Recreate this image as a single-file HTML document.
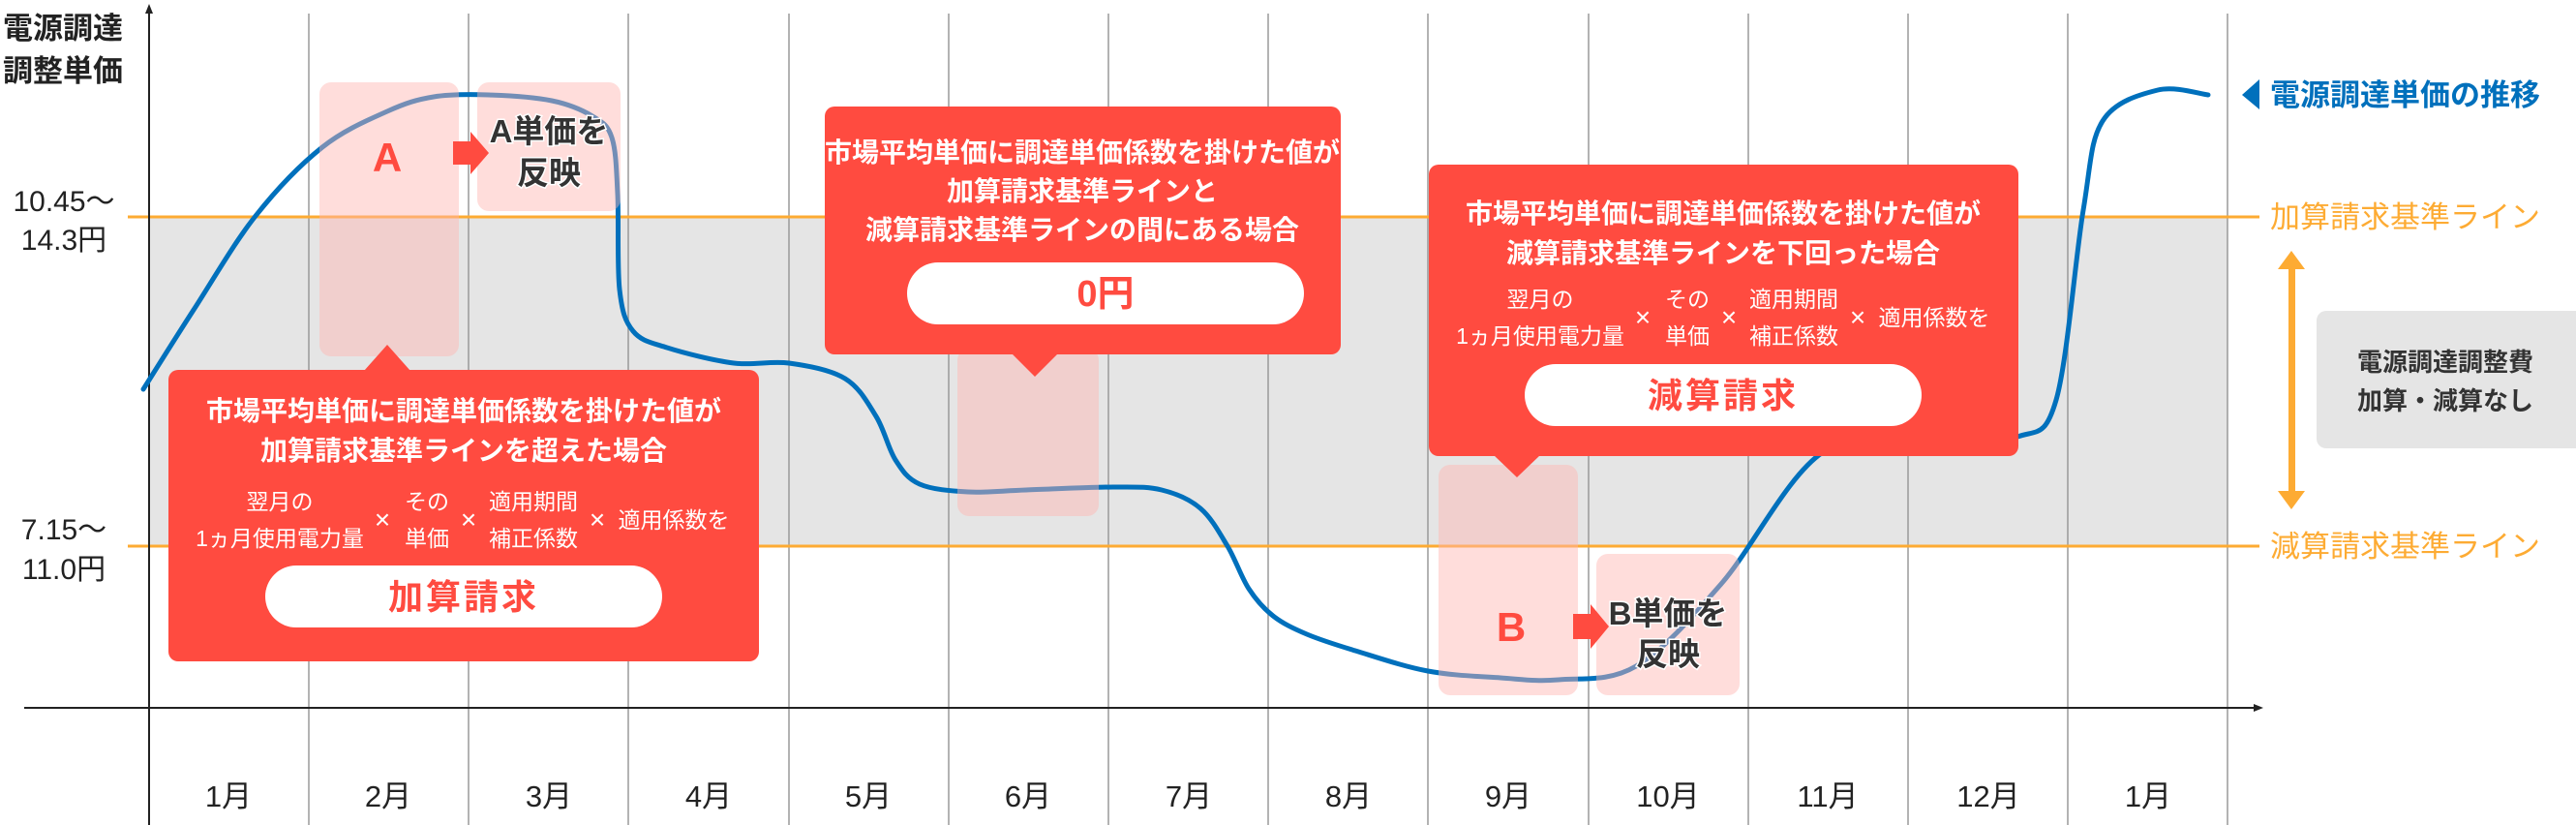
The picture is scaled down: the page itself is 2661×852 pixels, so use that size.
<!DOCTYPE html>
<html><head><meta charset="utf-8"><style>
html,body{margin:0;padding:0;background:#fff;}
svg{display:block;}
text{font-family:"Liberation Sans","Noto Sans CJK JP",sans-serif;}
</style></head><body>
<svg width="2661" height="852" viewBox="0 0 2661 852" xmlns="http://www.w3.org/2000/svg">
<rect x="154" y="224" width="2147" height="340" fill="#e5e5e5"/>
<g stroke="#9a9a9a" stroke-width="1.5">
<line x1="319" y1="14" x2="319" y2="852"/><line x1="484" y1="14" x2="484" y2="852"/>
<line x1="649" y1="14" x2="649" y2="852"/><line x1="815" y1="14" x2="815" y2="852"/>
<line x1="980" y1="14" x2="980" y2="852"/><line x1="1145" y1="14" x2="1145" y2="852"/>
<line x1="1310" y1="14" x2="1310" y2="852"/><line x1="1475" y1="14" x2="1475" y2="852"/>
<line x1="1641" y1="14" x2="1641" y2="852"/><line x1="1806" y1="14" x2="1806" y2="852"/>
<line x1="1971" y1="14" x2="1971" y2="852"/><line x1="2136" y1="14" x2="2136" y2="852"/>
<line x1="2301" y1="14" x2="2301" y2="852"/>
</g>
<line x1="132" y1="224" x2="2334" y2="224" stroke="#fdab33" stroke-width="3"/>
<line x1="132" y1="564" x2="2334" y2="564" stroke="#fdab33" stroke-width="3"/>
<line x1="154" y1="10" x2="154" y2="852" stroke="#222" stroke-width="2"/>
<polygon points="154,4 150,14 158,14" fill="#222"/>
<line x1="25" y1="731" x2="2330" y2="731" stroke="#222" stroke-width="2"/>
<polygon points="2338,731 2328,727 2328,735" fill="#222"/>
<path id="curve" d="" fill="none" stroke="#0070bc" stroke-width="5" stroke-linecap="round"/>
<g fill="rgba(255,180,175,0.45)">
<rect x="330" y="85" width="144" height="283" rx="12"/>
<rect x="493" y="85" width="148" height="133" rx="12"/>
<rect x="989" y="360" width="146" height="173" rx="12"/>
<rect x="1486" y="480" width="144" height="238" rx="12"/>
<rect x="1649" y="572" width="148" height="146" rx="12"/>
</g>
<text x="400" y="177" font-size="42" font-weight="bold" fill="#ff4b40" text-anchor="middle">A</text>
<path d="M468 146h18v-10l19 22-19 22v-10h-18z" fill="#ff4b40"/>
<g font-size="33" font-weight="bold" fill="#333" text-anchor="middle" stroke="#fff" stroke-width="3" paint-order="stroke">
<text x="567" y="147">A単価を</text><text x="567" y="190">反映</text>
<text x="1723" y="645">B単価を</text><text x="1723" y="687">反映</text>
</g>
<text x="1561" y="662" font-size="42" font-weight="bold" fill="#ff4b40" text-anchor="middle">B</text>
<path d="M1625 634h18v-10l19 23-19 23v-10h-18z" fill="#ff4b40"/>

<rect x="174" y="382" width="610" height="301" rx="10" fill="#ff4b40"/>
<polygon points="376,383 400,356 424,383" fill="#ff4b40"/>
<g fill="#fff" text-anchor="middle" font-size="28" font-weight="bold">
<text x="479" y="434">市場平均単価に調達単価係数を掛けた値が</text>
<text x="479" y="475">加算請求基準ラインを超えた場合</text>
</g>
<g fill="#fff" font-size="23" text-anchor="middle">
<text x="289" y="526">翌月の</text><text x="289" y="564">1ヵ月使用電力量</text>
<text x="395" y="546" font-size="28">×</text>
<text x="441" y="526">その</text><text x="441" y="564">単価</text>
<text x="484" y="546" font-size="28">×</text>
<text x="551" y="526">適用期間</text><text x="551" y="564">補正係数</text>
<text x="617" y="546" font-size="28">×</text>
<text x="696" y="545">適用係数を</text>
</g>
<rect x="274" y="584" width="410" height="64" rx="32" fill="#fff"/>
<text x="479" y="629" font-size="36" font-weight="bold" fill="#ff4b40" text-anchor="middle" letter-spacing="3">加算請求</text>

<rect x="852" y="110" width="533" height="256" rx="10" fill="#ff4b40"/>
<polygon points="1045,365 1069,389 1093,365" fill="#ff4b40"/>
<g fill="#fff" text-anchor="middle" font-size="28" font-weight="bold">
<text x="1118" y="167">市場平均単価に調達単価係数を掛けた値が</text>
<text x="1118" y="207">加算請求基準ラインと</text>
<text x="1118" y="247">減算請求基準ラインの間にある場合</text>
</g>
<rect x="937" y="271" width="410" height="64" rx="32" fill="#fff"/>
<text x="1142" y="316" font-size="38" font-weight="bold" fill="#ff4b40" text-anchor="middle">0円</text>

<rect x="1476" y="170" width="609" height="301" rx="10" fill="#ff4b40"/>
<polygon points="1543,470 1567,493 1591,470" fill="#ff4b40"/>
<g fill="#fff" text-anchor="middle" font-size="28" font-weight="bold">
<text x="1780" y="230">市場平均単価に調達単価係数を掛けた値が</text>
<text x="1780" y="271">減算請求基準ラインを下回った場合</text>
</g>
<g fill="#fff" font-size="23" text-anchor="middle">
<text x="1591" y="317">翌月の</text><text x="1591" y="355">1ヵ月使用電力量</text>
<text x="1697" y="337" font-size="28">×</text>
<text x="1743" y="317">その</text><text x="1743" y="355">単価</text>
<text x="1786" y="337" font-size="28">×</text>
<text x="1853" y="317">適用期間</text><text x="1853" y="355">補正係数</text>
<text x="1919" y="337" font-size="28">×</text>
<text x="1998" y="336">適用係数を</text>
</g>
<rect x="1575" y="376" width="410" height="64" rx="32" fill="#fff"/>
<text x="1780" y="421" font-size="36" font-weight="bold" fill="#ff4b40" text-anchor="middle" letter-spacing="3">減算請求</text>

<g fill="#222" font-size="31" font-weight="bold">
<text x="3" y="40">電源調達</text><text x="3" y="84">調整単価</text>
</g>
<g fill="#222" font-size="30" text-anchor="middle">
<text x="66" y="218">10.45〜</text><text x="66" y="258">14.3円</text>
<text x="66" y="557">7.15〜</text><text x="66" y="598">11.0円</text>
</g>
<g fill="#222" font-size="31" text-anchor="middle">
<text x="236" y="833">1月</text><text x="401" y="833">2月</text><text x="567" y="833">3月</text>
<text x="732" y="833">4月</text><text x="897" y="833">5月</text><text x="1062" y="833">6月</text>
<text x="1228" y="833">7月</text><text x="1393" y="833">8月</text><text x="1558" y="833">9月</text>
<text x="1723" y="833">10月</text><text x="1888" y="833">11月</text><text x="2054" y="833">12月</text>
<text x="2219" y="833">1月</text>
</g>
<polygon points="2316,98 2334,82 2334,113" fill="#0070bc"/>
<text x="2345" y="109" font-size="31" font-weight="bold" fill="#0070bc">電源調達単価の推移</text>
<text x="2345" y="235" font-size="31" fill="#fdab33">加算請求基準ライン</text>
<text x="2345" y="575" font-size="31" fill="#fdab33">減算請求基準ライン</text>
<rect x="2364" y="272" width="7" height="240" fill="#fdab33"/>
<polygon points="2367,259 2353,278 2381,278" fill="#fdab33"/>
<polygon points="2367,526 2353,507 2381,507" fill="#fdab33"/>
<rect x="2393" y="321" width="290" height="142" rx="10" fill="#e5e5e5"/>
<g fill="#333" font-size="26" font-weight="bold" text-anchor="middle">
<text x="2526" y="383">電源調達調整費</text><text x="2526" y="423">加算・減算なし</text>
</g>
</svg>
<script>
var p=[[148,402],[200,320],[264,223],[333,152],[400,115],[448,100],[505,98],[570,104],[612,120],[632,142],[638,200],[640,299],[654,342],[689,359],[758,375],[815,375],[873,391],[905,430],[925,475],[950,500],[1000,508],[1060,506],[1150,503],[1200,506],[1240,525],[1268,564],[1290,608],[1315,636],[1350,655],[1400,672],[1475,693],[1550,700],[1610,702],[1690,688],[1778,603],[1883,467],[2000,455],[2084,451],[2124,413],[2152,217],[2172,125],[2229,93],[2281,98]];
var d="M"+p[0][0]+" "+p[0][1];
for(var i=0;i<p.length-1;i++){var a=p[i-1]||p[i],b=p[i],c=p[i+1],e=p[i+2]||c;
d+=" C"+(b[0]+(c[0]-a[0])/6)+" "+(b[1]+(c[1]-a[1])/6)+" "+(c[0]-(e[0]-b[0])/6)+" "+(c[1]-(e[1]-b[1])/6)+" "+c[0]+" "+c[1];}
document.getElementById("curve").setAttribute("d",d);
</script>
</body></html>
